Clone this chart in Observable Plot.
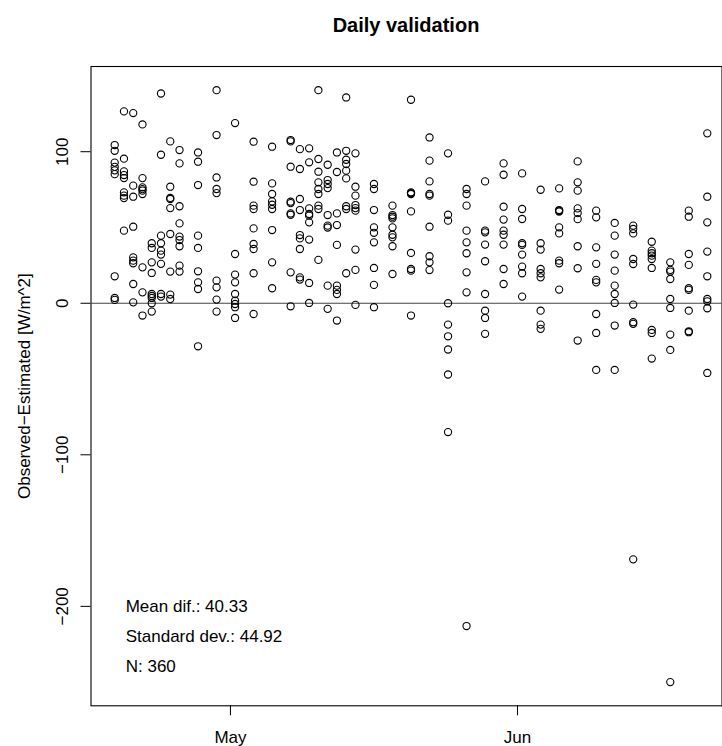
<!DOCTYPE html>
<html><head><meta charset="utf-8">
<script src="https://cdn.jsdelivr.net/npm/d3@7"></script>
<script src="https://cdn.jsdelivr.net/npm/@observablehq/plot@0.6"></script>
<style>
body{margin:0;background:#fff;font-family:"Liberation Sans",Arial,Helvetica,sans-serif;overflow:hidden;}
#title{width:722px;height:45px;box-sizing:border-box;padding-top:15px;padding-left:90px;text-align:center;font-weight:bold;font-size:20px;line-height:20px;color:#000;}
</style></head><body>
<div id="title">Daily validation</div>
<div id="chart"></div>
<script>
const year = 2014;
const days = ["04-18","04-19","04-20","04-21","04-22","04-23","04-24","04-25","04-27","04-29",
  "05-01","05-03","05-05","05-07","05-08","05-09","05-10","05-11","05-12","05-13","05-14",
  "05-16","05-18","05-20","05-22","05-24","05-26","05-28","05-30",
  "06-01","06-03","06-05","06-07","06-09","06-11","06-13","06-15","06-17","06-19","06-21"];
const values = [
  [104.4, 100.6, 92.8, 90.0, 87.7, 85.2, 17.8, 3.5, 2.2],
  [126.6, 95.4, 87.0, 84.6, 82.6, 73.2, 71.0, 69.4, 47.9],
  [125.5, 77.6, 70.3, 50.5, 30.3, 28.1, 26.4, 12.7, 0.6],
  [118.0, 82.6, 76.5, 75.3, 74.3, 72.1, 23.7, 7.2, -8.1],
  [39.6, 36.5, 27.0, 20.0, 6.1, 4.8, 3.5, 0.0, -5.5],
  [138.4, 98.0, 44.6, 39.6, 34.7, 32.1, 26.0, 6.1, 4.4],
  [106.8, 76.9, 69.5, 68.8, 62.8, 45.7, 20.9, 5.7, 2.8],
  [101.1, 92.3, 64.0, 52.7, 44.0, 41.7, 37.6, 24.8, 20.9],
  [99.5, 93.4, 78.0, 44.6, 36.5, 21.1, 13.8, 9.4, -28.4],
  [140.6, 111.0, 83.0, 75.4, 72.7, 14.9, 10.5, 2.4, -5.5],
  [118.9, 32.5, 18.9, 13.8, 6.1, 1.7, -0.5, -2.6, -9.7],
  [106.6, 80.2, 64.4, 62.2, 49.4, 39.1, 35.8, 19.8, -7.1],
  [103.3, 79.1, 72.1, 67.2, 65.0, 62.2, 48.3, 27.0, 9.9],
  [107.7, 106.8, 90.1, 67.0, 66.1, 59.3, 58.4, 20.4, -2.0],
  [101.7, 88.6, 68.8, 61.5, 45.0, 42.8, 35.8, 17.1, 15.6],
  [102.2, 93.0, 62.6, 58.9, 57.8, 53.4, 42.0, 13.4, 0.2],
  [140.6, 95.2, 86.8, 79.8, 75.4, 72.1, 64.4, 62.2, 28.6],
  [91.4, 81.3, 78.7, 76.0, 58.2, 51.2, 50.0, 11.6, -3.7],
  [99.5, 86.6, 59.3, 51.6, 38.5, 11.6, 8.8, 6.1, -11.4],
  [135.8, 100.6, 94.7, 91.9, 87.5, 82.4, 64.0, 62.2, 19.8],
  [98.9, 76.9, 71.0, 64.8, 62.8, 61.1, 35.4, 22.0, -1.1],
  [78.7, 75.4, 61.5, 50.1, 46.5, 40.2, 23.3, 12.1, -2.6],
  [64.4, 58.2, 57.1, 56.0, 50.1, 45.2, 43.5, 37.6, 19.3],
  [134.3, 73.2, 72.6, 72.1, 60.6, 33.2, 22.6, 21.5, -8.1],
  [109.4, 94.1, 80.4, 72.1, 71.0, 50.5, 31.0, 27.0, 21.9],
  [98.9, 58.4, 54.5, 0.0, -14.1, -21.8, -30.5, -47.0, -85.0],
  [75.4, 72.1, 64.4, 47.9, 40.2, 33.0, 20.4, 7.2, -213.0],
  [80.4, 47.9, 46.8, 38.7, 27.7, 6.1, -4.9, -9.7, -20.2],
  [92.3, 84.8, 63.7, 55.2, 47.9, 45.2, 38.7, 22.6, 12.7],
  [85.7, 62.2, 55.6, 39.6, 38.5, 32.1, 24.2, 19.8, 4.4],
  [74.9, 39.6, 35.4, 22.6, 19.8, 17.1, -4.9, -14.1, -16.9],
  [75.8, 61.5, 61.0, 60.5, 50.1, 46.1, 28.1, 26.4, 9.0],
  [93.6, 79.8, 74.3, 62.6, 59.5, 55.5, 37.6, 23.1, -24.6],
  [61.1, 56.7, 36.9, 26.0, 15.4, 13.8, -7.1, -19.6, -44.0],
  [53.0, 44.6, 32.1, 21.5, 11.6, 6.1, 0.2, -14.7, -44.0],
  [51.2, 49.0, 46.1, 29.2, 25.9, -0.9, -12.5, -13.6, -169.0],
  [40.6, 34.7, 33.0, 31.4, 29.2, 23.3, -17.6, -19.6, -36.5],
  [27.0, 22.0, 20.9, 16.0, 2.8, -3.1, -20.7, -30.8, -250.0],
  [61.1, 57.1, 32.5, 25.3, 9.9, 8.8, -4.9, -18.5, -19.1],
  [112.1, 70.3, 53.4, 34.1, 17.8, 2.8, 1.3, -3.3, -46.0]
];
const yTicks = [100, 0, -100, -200];
const xTickDays = ["05-01", "06-01"];
const yLabel = "Observed\u2212Estimated [W/m^2]";
const statLabels = ["Mean dif.: 40.33", "Standard dev.: 44.92", "N: 360"];
const statY = [-200, -220, -240];

const toDate = (s, h) => new Date(Date.UTC(year, +s.slice(0, 2) - 1, +s.slice(3), h));
const rows = days.flatMap((d, i) => values[i].map(v => ({date: toDate(d, 12), diff: v})));
const xTicks = xTickDays.map(d => toDate(d, 0));

// R-style 4% padding of the data range
const pad = ([a, b]) => { const p = (b - a) * 0.04; return [a - p, b + p]; };
const xExt = d3.extent(rows, d => +d.date);
const xDomain = pad(xExt).map(t => new Date(t));
const yDomain = pad(d3.extent(rows, d => d.diff));
const fmtY = d => d < 0 ? "\u2212" + Math.abs(d) : String(d);
const font = '"Liberation Sans", Arial, Helvetica, sans-serif';

const W = 722, ML = 90.5;
const chart = Plot.plot({
  width: W, height: 701,
  marginLeft: ML, marginRight: 0.5, marginTop: 21, marginBottom: 40.7,
  style: {fontFamily: font, fontSize: "17px", background: "white", color: "black", overflow: "hidden"},
  x: {type: "utc", domain: xDomain, range: [ML, W + 8.5], ticks: xTicks, tickSize: 10, tickFormat: () => "", label: null},
  y: {domain: yDomain, ticks: yTicks, tickSize: 10, tickFormat: () => "", label: null},
  marks: [
    Plot.frame({stroke: "black", strokeWidth: 1.1}),
    Plot.ruleY([0], {stroke: "#444", strokeWidth: 1.2}),
    Plot.dot(rows, {x: "date", y: "diff", r: 3.6, stroke: "black", strokeWidth: 1.1, fill: "none"}),
    Plot.text(yTicks, {y: d => d, text: fmtY, frameAnchor: "left", dx: -28.5, rotate: -90,
      textAnchor: "middle", lineAnchor: "middle", fontSize: 17, fill: "black"}),
    Plot.text(xTicks, {x: d => d, text: d => d3.utcFormat("%b")(d), frameAnchor: "bottom", dy: 32,
      textAnchor: "middle", lineAnchor: "middle", fontSize: 17, fill: "black"}),
    Plot.text([yLabel], {text: d => d, frameAnchor: "left", dx: -66, rotate: -90,
      textAnchor: "middle", lineAnchor: "middle", fontSize: 17, fill: "black"}),
    Plot.text(statLabels, {x: () => new Date(xExt[0]), y: (d, i) => statY[i], text: d => d,
      textAnchor: "start", lineAnchor: "middle", dx: 11, fontSize: 17, fill: "black"})
  ]
});
document.getElementById("chart").appendChild(chart);
</script>
</body></html>
